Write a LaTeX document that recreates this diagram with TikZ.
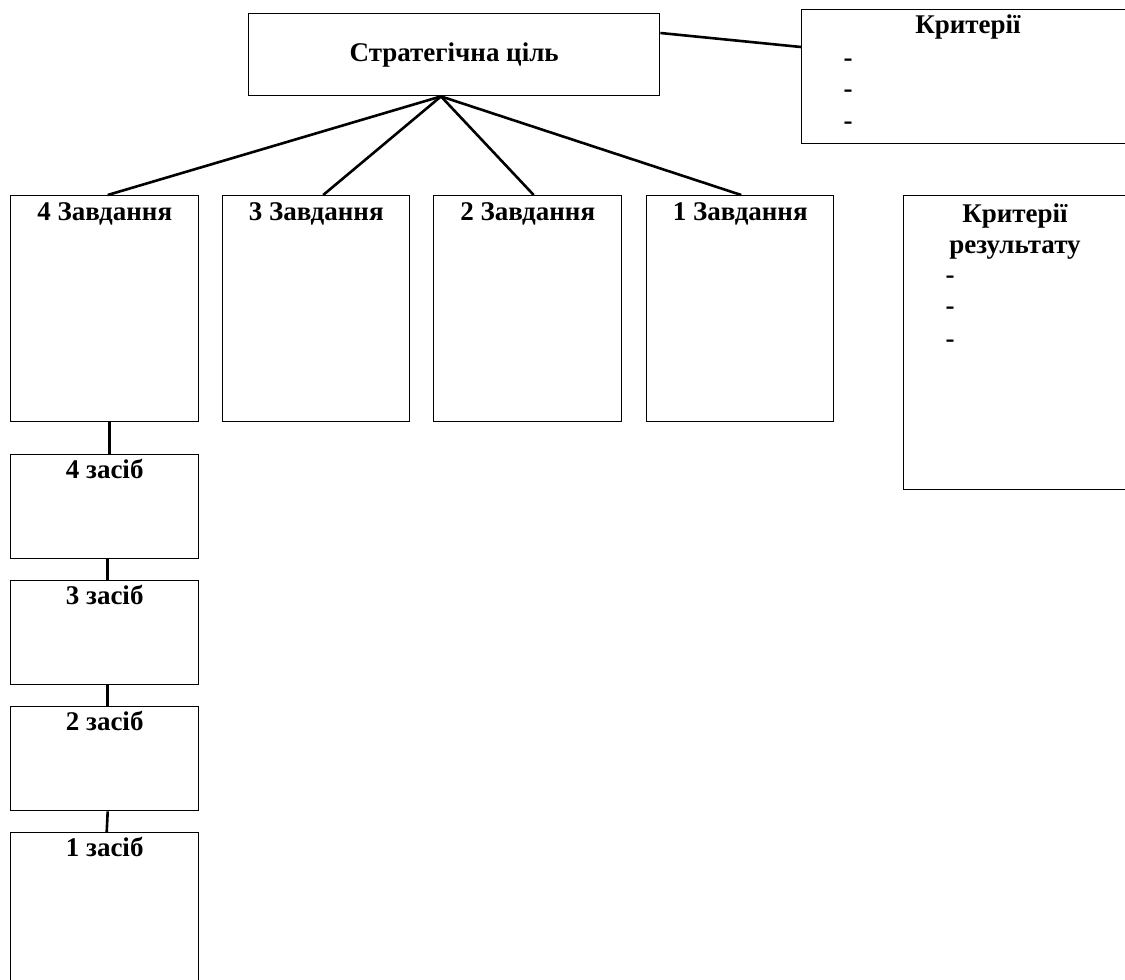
\documentclass[tikz,border=0pt]{standalone}
\usepackage{fontspec}
\setmainfont{Liberation Serif}
\usetikzlibrary{calc}
\begin{document}
\begin{tikzpicture}[x=1pt,y=-1pt,
  box/.style={draw, line width=1.4pt, rectangle, inner sep=0pt, anchor=north west},
  ttl/.style={font=\fontsize{27}{31}\selectfont\bfseries, inner sep=0pt, anchor=base, align=center},
  dsh/.style={font=\fontsize{27}{31}\selectfont\bfseries, inner sep=0pt, anchor=base},
  conn/.style={line width=2.6pt},
]
\useasboundingbox (0,0) rectangle (1125,980);
\clip (0,0) rectangle (1125,980);
% boxes
\node[box, minimum width=411pt, minimum height=82pt] (goal) at (248,13) {};
\node[box, minimum width=334pt, minimum height=134pt] (crit) at (801,9) {};
\node[box, minimum width=188pt, minimum height=226pt] (t4) at (10,195) {};
\node[box, minimum width=187pt, minimum height=226pt] (t3) at (222,195) {};
\node[box, minimum width=188pt, minimum height=226pt] (t2) at (433,195) {};
\node[box, minimum width=187pt, minimum height=226pt] (t1) at (646,195) {};
\node[box, minimum width=225pt, minimum height=294pt] (res) at (903,195) {};
\node[box, minimum width=188pt, minimum height=104pt] (m4) at (10,454) {};
\node[box, minimum width=188pt, minimum height=104pt] (m3) at (10,580) {};
\node[box, minimum width=188pt, minimum height=104pt] (m2) at (10,706) {};
\node[box, minimum width=188pt, minimum height=170pt] (m1) at (10,832) {};
% texts
\node[ttl] (goalT) at ($(goal.north)+(0,48)$) {Стратегічна ціль};
\node[ttl] (critT) at (968,33) {Критерії};
\node[dsh] (c1) at (848,66) {-};
\node[dsh] (c2) at (848,97) {-};
\node[dsh] (c3) at (848,129) {-};
\node[ttl] (t4T) at ($(t4.north)+(0,25)$) {4 Завдання};
\node[ttl] (t3T) at ($(t3.north)+(0,25)$) {3 Завдання};
\node[ttl] (t2T) at ($(t2.north)+(0,25)$) {2 Завдання};
\node[ttl] (t1T) at ($(t1.north)+(0,25)$) {1 Завдання};
\node[ttl] (resT) at (1015,253) {Критерії\\результату};
\node[dsh] (r1) at (950,283) {-};
\node[dsh] (r2) at (950,314) {-};
\node[dsh] (r3) at (950,347) {-};
\node[ttl] (m4T) at ($(m4.north)+(0,24)$) {4 засіб};
\node[ttl] (m3T) at ($(m3.north)+(0,24)$) {3 засіб};
\node[ttl] (m2T) at ($(m2.north)+(0,24)$) {2 засіб};
\node[ttl] (m1T) at ($(m1.north)+(0,24)$) {1 засіб};
% connectors
\coordinate (hub) at ($(goal.south west)+(193,0)$);
\draw[conn] (hub) -- ($(t4.north)+(3,0)$);
\draw[conn] (hub) -- ($(t3.north)+(7,0)$);
\draw[conn] (hub) -- ($(t2.north)+(6,0)$);
\draw[conn] (hub) -- ($(t1.north)+(1,0)$);
\draw[conn] ($(goal.north east)+(0,20)$) -- ($(crit.north west)+(0,38)$);
\draw[conn] ($(t4.south)+(5,0)$) -- ($(m4.north)+(5,0)$);
\draw[conn] ($(m4.south)+(3,0)$) -- ($(m3.north)+(3,0)$);
\draw[conn] ($(m3.south)+(3,0)$) -- ($(m2.north)+(3,0)$);
\draw[conn] ($(m2.south)+(3,0)$) -- ($(m1.north)+(2,0)$);
\end{tikzpicture}
\end{document}
